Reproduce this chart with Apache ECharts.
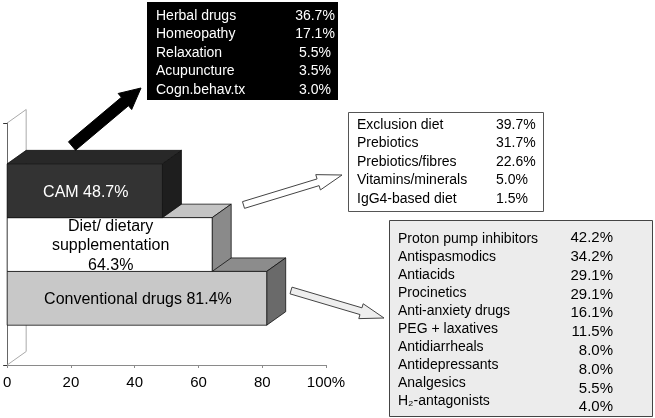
<!DOCTYPE html>
<html><head><meta charset="utf-8">
<script src="https://cdn.jsdelivr.net/npm/echarts@6/dist/echarts.min.js"></script>
<style>html,body{margin:0;padding:0;background:#fff}#c{width:655px;height:418px}</style>
</head><body><div id="c"></div>
<script>
// ---- data ----
const categories = ['Conventional drugs', 'Diet/ dietary\nsupplementation', 'CAM'];
const values = [81.4, 64.3, 48.7];
const xTicks = [0, 20, 40, 60, 80, 100];
const camItems = ['Herbal drugs', 'Homeopathy', 'Relaxation', 'Acupuncture', 'Cogn.behav.tx'];
const camValues = [36.7, 17.1, 5.5, 3.5, 3.0];
const dietItems = ['Exclusion diet', 'Prebiotics', 'Prebiotics/fibres', 'Vitamins/minerals', 'IgG4-based diet'];
const dietValues = [39.7, 31.7, 22.6, 5.0, 1.5];
const drugItems = ['Proton pump inhibitors', 'Antispasmodics', 'Antiacids', 'Procinetics', 'Anti-anxiety drugs',
  'PEG + laxatives', 'Antidiarrheals', 'Antidepressants', 'Analgesics', 'H\u2082-antagonists'];
const drugValues = [42.2, 34.2, 29.1, 29.1, 16.1, 11.5, 8.0, 8.0, 5.5, 4.0];

// ---- styles ----
const FONT = '"Liberation Sans", Arial, Helvetica, sans-serif';
const BOXFONT = '14px ' + FONT;
const faceColors = [
  { front: '#c8c8c8', top: '#8c8c8c', side: '#6a6a6a', text: '#000' },
  { front: '#ffffff', top: '#c4c4c4', side: '#8a8a8a', text: '#000' },
  { front: '#333333', top: '#282828', side: '#1e1e1e', text: '#fff' }
];
const DX = 19, DY = -13.5;

const chart = echarts.init(document.getElementById('c'), null, { renderer: 'canvas' });

function arrow(tail, tip, shaftW, headW, headL, fill, stroke) {
  const ddx = tip[0] - tail[0], ddy = tip[1] - tail[1];
  const L = Math.hypot(ddx, ddy);
  const ux = ddx / L, uy = ddy / L, px = -uy, py = ux;
  const bx = tip[0] - ux * headL, by = tip[1] - uy * headL;
  const pts = [
    [tail[0] + px * shaftW / 2, tail[1] + py * shaftW / 2],
    [bx + px * shaftW / 2, by + py * shaftW / 2],
    [bx + px * headW / 2, by + py * headW / 2],
    tip,
    [bx - px * headW / 2, by - py * headW / 2],
    [bx - px * shaftW / 2, by - py * shaftW / 2],
    [tail[0] - px * shaftW / 2, tail[1] - py * shaftW / 2]
  ];
  return { type: 'polygon', shape: { points: pts }, style: { fill: fill, stroke: stroke, lineWidth: 1 }, z: 10 };
}

function box(x, y, w, h, fill, stroke, names, vals, opts) {
  const els = [{ type: 'rect', shape: { x: x, y: y, width: w, height: h },
    style: { fill: fill, stroke: stroke, lineWidth: stroke ? 1 : 0 }, z: 5 }];
  names.forEach((n, i) => {
    els.push({ type: 'text', z: 6, style: { text: n, x: opts.nameX, y: opts.nameY0 + i * opts.nameStep,
      fill: opts.color, font: BOXFONT, align: 'left', verticalAlign: 'middle' } });
  });
  vals.forEach((v, i) => {
    els.push({ type: 'text', z: 6, style: { text: v.toFixed(1) + '%', x: opts.valX, y: opts.valY0 + i * opts.valStep,
      fill: opts.color, font: opts.valFont || BOXFONT, align: opts.valAlign, verticalAlign: 'middle' } });
  });
  return els;
}

const graphics = [].concat(
  box(147, 2, 191, 98, '#000', null, camItems, camValues,
    { nameX: 156, nameY0: 16, nameStep: 18.5, valX: 315, valY0: 16, valStep: 18.5, valAlign: 'center', color: '#fff' }),
  box(348.5, 112.5, 195, 99, '#fff', '#555', dietItems, dietValues,
    { nameX: 357, nameY0: 125, nameStep: 18.5, valX: 496, valY0: 125, valStep: 18.5, valAlign: 'left', color: '#000' }),
  box(389.5, 220.5, 263, 196, '#ececec', '#444', drugItems, drugValues,
    { nameX: 398, nameY0: 239, nameStep: 18, valX: 613, valY0: 238, valStep: 18.8, valAlign: 'right', color: '#000',
      valFont: '15px ' + FONT }),
  [
    arrow([72, 146], [141, 88], 11, 21, 21, '#000', '#000'),
    arrow([243.5, 205], [342, 175], 7, 16, 25, '#fff', '#444'),
    arrow([291, 290.5], [384, 318], 7, 15.5, 24, '#eeeeee', '#444')
  ]
);

const option = {
  animation: false,
  backgroundColor: '#fff',
  grid: { left: 7, right: 329, top: 123, bottom: 53, containLabel: false },
  xAxis: {
    type: 'value', min: xTicks[0], max: xTicks[xTicks.length - 1], interval: 20,
    axisLine: { show: true, lineStyle: { color: '#8a8a8a', width: 1 } },
    axisTick: { show: true, length: 3, lineStyle: { color: '#8a8a8a' } },
    splitLine: { show: false },
    axisLabel: { color: '#000', fontSize: 15, fontFamily: FONT, margin: 10,
      formatter: v => (v === 100 ? v + '%' : String(v)) }
  },
  yAxis: {
    type: 'value', min: 0, max: 4.5, interval: 4.5,
    axisLine: { show: true, lineStyle: { color: '#666', width: 1 } },
    axisTick: { show: true, length: 4, lineStyle: { color: '#333' } },
    axisLabel: { show: false }, splitLine: { show: false }
  },
  graphic: graphics,
  series: [
    {
      type: 'custom', z: 1, silent: true,
      data: [[0, 0]],
      renderItem: function (params, api) {
        const a = api.coord([0, 0]), b = api.coord([0, 4.5]);
        return { type: 'polyline', shape: { points: [[a[0], b[1]], [a[0] + DX, b[1] + DY], [a[0] + DX, a[1] + DY], [a[0], a[1]]] },
          style: { stroke: '#aaa', lineWidth: 1, fill: null } };
      }
    },
    {
      type: 'custom', z: 3, silent: true,
      data: values.map((v, i) => [v, i + 1.24, i]),
      renderItem: function (params, api) {
        const v = api.value(0), yc = api.value(1), i = api.value(2);
        const p0 = api.coord([0, yc - 0.5]);
        const p1 = api.coord([v, yc + 0.5]);
        const x0 = p0[0], x1 = p1[0], yb = p0[1], yt = p1[1];
        const c = faceColors[i];
        const name = categories[i];
        const label = name + (name.indexOf('\n') >= 0 ? '\n' : ' ') + v + '%';
        const edge = { stroke: '#111', lineWidth: 0.8 };
        return {
          type: 'group',
          children: [
            { type: 'polygon', shape: { points: [[x0, yt], [x1, yt], [x1 + DX, yt + DY], [x0 + DX, yt + DY]] },
              style: Object.assign({ fill: c.top }, edge) },
            { type: 'polygon', shape: { points: [[x1, yt], [x1 + DX, yt + DY], [x1 + DX, yb + DY], [x1, yb]] },
              style: Object.assign({ fill: c.side }, edge) },
            { type: 'rect', shape: { x: x0, y: yt, width: x1 - x0, height: yb - yt },
              style: Object.assign({ fill: c.front }, edge) },
            { type: 'text', style: { text: label, x: (x0 + x1) / 2 + 1, y: (yt + yb) / 2 + 1.5, align: 'center',
              verticalAlign: 'middle', fill: c.text, font: '16px ' + FONT, lineHeight: 19.5 } }
          ]
        };
      }
    }
  ]
};
chart.setOption(option);
</script>
</body></html>
